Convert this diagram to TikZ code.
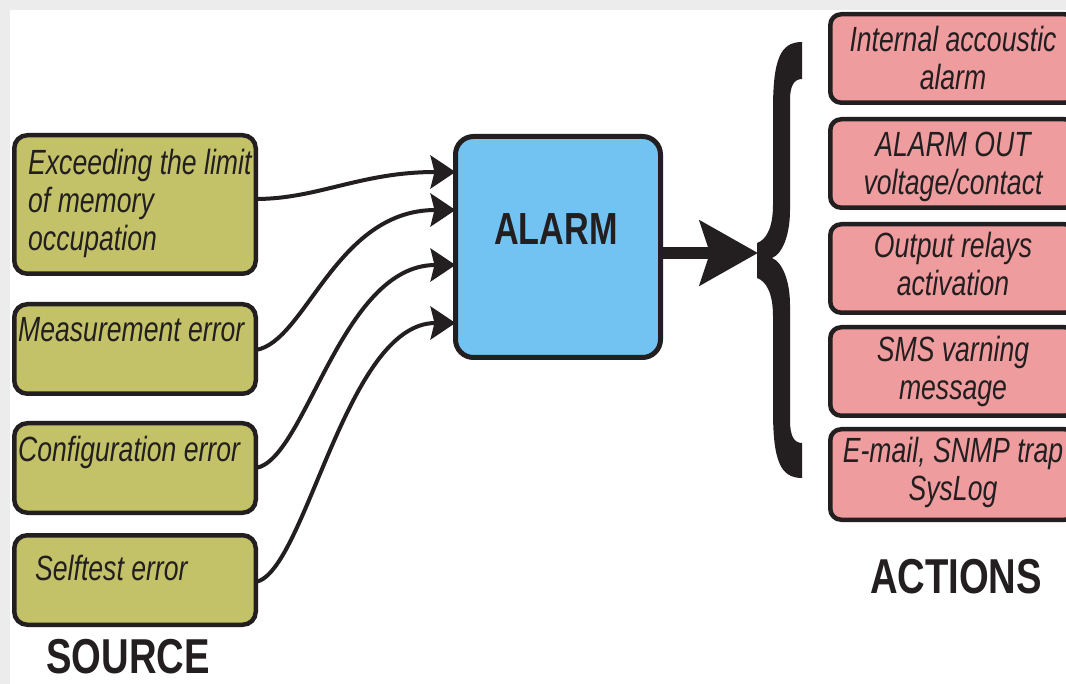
\documentclass[tikz,border=0pt]{standalone}
\usepackage{fontspec}
\setmainfont{Liberation Sans}[FakeStretch=0.76]
\newfontfamily\headfont{Liberation Sans}[FakeStretch=0.78]
\usetikzlibrary{arrows.meta}
\definecolor{ink}{HTML}{231F20}
\definecolor{srcfill}{HTML}{C4C268}
\definecolor{alarmfill}{HTML}{72C2F2}
\definecolor{actfill}{HTML}{EF9C9E}
\definecolor{bggrey}{HTML}{ECECEC}
\newcommand\ctrlines[1]{\vtop{\halign{\hfil##\hfil\cr#1\crcr}}}
\newcommand\leftlines[1]{\vtop{\halign{##\hfil\cr#1\crcr}}}
\tikzset{
  srcbox/.style={draw=ink, line width=4.5pt, fill=srcfill, rounded corners=13pt,
    minimum width=241.5pt, minimum height=89.5pt, inner sep=0pt, outer sep=0pt},
  actbox/.style={draw=ink, line width=4.5pt, fill=actfill, rounded corners=11pt,
    minimum width=245.5pt, minimum height=88.5pt, inner sep=0pt, outer sep=0pt},
  alarmbox/.style={draw=ink, line width=5pt, fill=alarmfill, rounded corners=18pt,
    minimum width=205pt, minimum height=221pt, inner sep=0pt, outer sep=0pt},
  boxtxt/.style={inner sep=0pt, text=ink, font=\fontsize{35}{38}\selectfont\itshape},
  headlbl/.style={inner sep=0pt, text=ink, font=\headfont\fontsize{49}{56}\selectfont\bfseries},
  alarmlbl/.style={inner sep=0pt, text=ink, font=\fontsize{45}{50}\selectfont\bfseries},
  conn/.style={draw=ink, line width=4pt, -{Stealth[length=25pt,width=33pt,inset=4pt]}},
  bigconn/.style={draw=ink, line width=12pt, -{Stealth[length=58pt,width=64pt,inset=10pt]}},
}
\begin{document}
\begin{tikzpicture}[x=1pt,y=-1pt]
\useasboundingbox (0,0) rectangle (1066,684);
\fill[white] (0,0) rectangle (1066,684);
\fill[bggrey] (0,0) rectangle (1066,10);
\fill[bggrey] (0,0) rectangle (10,684);

% source boxes
\node[srcbox, minimum height=138.5pt] (s1) at (135,204.5) {};
\node[srcbox] (s2) at (135,349) {};
\node[srcbox] (s3) at (135,468) {};
\node[srcbox] (s4) at (135,580) {};
\node[boxtxt, anchor=base west] (s1t) at (28,175) {\leftlines{Exceeding the limit\cr of memory\cr occupation}};
\node[boxtxt, anchor=base west] (s2t) at (18,342) {Measurement error};
\node[boxtxt, anchor=base west] (s3t) at (18,462) {Configuration error};
\node[boxtxt, anchor=base west] (s4t) at (35,580) {Selftest error};
\node[headlbl, anchor=base] (srclbl) at (128,673) {SOURCE};

% alarm
\node[alarmbox] (alarm) at (558,247) {};
\node[alarmlbl, anchor=base] (alarmt) at (556,245) {ALARM};

% connectors
\draw[conn] ([yshift=5.5pt]s1.east) .. controls +(62,0) and +(-95,0) .. ([yshift=75pt]alarm.west);
\draw[conn] ([yshift=-1pt]s2.east) .. controls +(50,-8) and +(-120,0) .. ([yshift=37pt]alarm.west);
\draw[conn] (s3.east) .. controls +(50,-8) and +(-115,0) .. ([yshift=-18pt]alarm.west);
\draw[conn] ([yshift=-2pt]s4.east) .. controls +(50,-10) and +(-110,0) .. ([yshift=-76pt]alarm.west);

% brace
\coordinate (bracetip) at (758,253);
\fill[ink] (802,42) .. controls (780,42) and (773,60) .. (773,110)
  -- (773,205)
  .. controls (773,228) and (766,240) .. (757,243)
  -- (757,278)
  .. controls (766,281) and (773,293) .. (773,316)
  -- (773,410)
  .. controls (773,460) and (780,478) .. (802,478)
  -- (802,443)
  .. controls (794,443) and (790,436) .. (790,420)
  -- (790,305)
  .. controls (790,280) and (782,262) .. (772,258)
  .. controls (782,254) and (790,236) .. (790,210)
  -- (790,100)
  .. controls (790,86) and (794,79) .. (802,79)
  -- cycle;
\draw[bigconn] ([yshift=-6pt]alarm.east) -- (bracetip);

% action boxes
\node[actbox] (a1) at (953,58.5) {};
\node[actbox] (a2) at (953,163.5) {};
\node[actbox] (a3) at (953,268.5) {};
\node[actbox] (a4) at (953,371.5) {};
\node[actbox, minimum height=90.5pt] (a5) at (953,474.5) {};
\node[boxtxt, anchor=base] (a1t) at (953,52) {\ctrlines{Internal accoustic\cr alarm}};
\node[boxtxt, anchor=base] (a2t) at (953,157) {\ctrlines{ALARM OUT\cr voltage/contact}};
\node[boxtxt, anchor=base] (a3t) at (953,258) {\ctrlines{Output relays\cr activation}};
\node[boxtxt, anchor=base] (a4t) at (953,362) {\ctrlines{SMS varning\cr message}};
\node[boxtxt, anchor=base] (a5t) at (953,463) {\ctrlines{E-mail, SNMP trap\cr SysLog}};
\node[headlbl, anchor=base] (actlbl) at (956,593) {ACTIONS};
\end{tikzpicture}
\end{document}
